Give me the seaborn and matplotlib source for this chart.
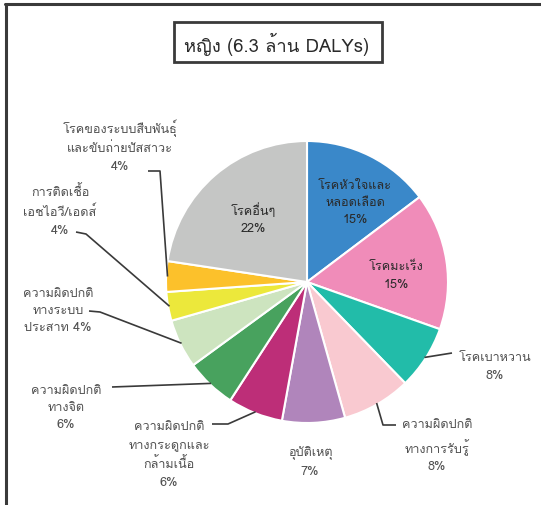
import matplotlib
matplotlib.use("Agg")
import numpy as np
import matplotlib.pyplot as plt
from matplotlib import font_manager
from matplotlib.ft2font import FT2Font
from matplotlib.lines import Line2D
from matplotlib.patches import Rectangle
import seaborn as sns

# Data (clockwise from 12 o'clock), share of DALYs in women
causes = ["โรคหัวใจและหลอดเลือด", "โรคมะเร็ง", "โรคเบาหวาน", "ความผิดปกติทางการรับรู้",
          "อุบัติเหตุ", "ความผิดปกติทางกระดูกและกล้ามเนื้อ", "ความผิดปกติทางจิต",
          "ความผิดปกติทางระบบประสาท", "การติดเชื้อเอชไอวี/เอดส์",
          "โรคของระบบสืบพันธุ์และขับถ่ายปัสสาวะ", "โรคอื่นๆ"]
shares = [14.7, 15.7, 7.3, 7.9, 7.2, 6.3, 5.8, 5.6, 3.3, 3.5, 22.6]
labels = ["โรคหัวใจและ\nหลอดเลือด\n15%", "โรคมะเร็ง\n15%", "โรคเบาหวาน\n8%",
          "ความผิดปกติ\nทางการรับรู้\n8%", "อุบัติเหตุ\n7%",
          "ความผิดปกติ\nทางกระดูกและ\nกล้ามเนื้อ\n6%", "ความผิดปกติ\nทางจิต\n6%",
          "ความผิดปกติ\nทางระบบ\nประสาท 4%", "การติดเชื้อ\nเอชไอวี/เอดส์\n4%",
          "โรคของระบบสืบพันธุ์\nและขับถ่ายปัสสาวะ\n4%", "โรคอื่นๆ\n22%"]
colors = ["#3a88c9", "#f08cb9", "#22bca9", "#f9c9d0", "#b085bb", "#bd2e78",
          "#48a25e", "#cde4bf", "#ece83b", "#fcc12b", "#c5c6c5"]
title = "หญิง (6.3 ล้าน DALYs)"


def find_thai_font():
    # first installed font that has Thai glyphs
    for f in font_manager.fontManager.ttflist:
        try:
            cmap = FT2Font(f.fname).get_charmap()
        except Exception:
            continue
        if 0x0E01 in cmap and 0x0E42 in cmap:
            return f.name
    return None


sns.set_theme(style="white")
thai = find_thai_font()
plt.rcParams['font.family'] = [thai, 'DejaVu Sans'] if thai else ['DejaVu Sans']

W, H = 541, 506


def px(x, y):
    # reference pixel position -> data coords (y up)
    return x, H - y


fig = plt.figure(figsize=(W / 100, H / 100), dpi=100)
ax = fig.add_axes([0, 0, 1, 1])
cx, cy = px(307, 283)
R = 141
wedges, _ = ax.pie(shares, colors=colors, startangle=90, counterclock=False,
                   center=(cx, cy), radius=R,
                   wedgeprops=dict(edgecolor="white", linewidth=1.5))
ax.set_xlim(0, W)
ax.set_ylim(0, H)
ax.set_aspect("equal")
ax.axis("off")

# label layout: (text centre, line points from text towards the wedge) ; None = no line
layout = [
    ((355, 203), None),
    ((396, 276), None),
    ((495, 367), [(452, 354)]),
    ((437, 446), [(396, 426), (383, 426)]),
    ((310, 462), None),
    ((169, 455), [(212, 425), (228, 425)]),
    ((66, 408), [(112, 388)]),
    ((58, 311), [(89, 312), (100, 313)]),
    ((60, 211), [(76, 233), (86, 235)]),
    ((120, 146), [(148, 172), (160, 172)]),
    ((253, 219), None),
]

inner = {0, 1, 10}
for i, (w, lab, (pos, pts)) in enumerate(zip(wedges, labels, layout)):
    ax.text(*px(*pos), lab, ha="center", va="center", fontsize=9.1,
            linespacing=1.6, color="#2a2a2a" if i in inner else "#505050")
    if pts:
        mid = np.deg2rad((w.theta1 + w.theta2) / 2)
        ex, ey = cx + R * 0.99 * np.cos(mid), cy + R * 0.99 * np.sin(mid)
        xs = [px(*p)[0] for p in pts] + [ex]
        ys = [px(*p)[1] for p in pts] + [ey]
        ax.plot(xs, ys, color="#3a3a3a", lw=1.2, solid_capstyle="butt")

# title box
ax.text(*px(277, 44), title, ha="center", va="center", fontsize=13.3, color="#2a2a2a")
ax.add_patch(Rectangle(px(174, 63), 208, 40, fill=False, edgecolor="#3a3a3a", lw=2))

# outer frame (top and left)
fig.add_artist(Line2D([5 / W, 1], [1 - 5 / H, 1 - 5 / H], color="#3a3a3a", lw=2.2))
fig.add_artist(Line2D([6 / W, 6 / W], [0, 1 - 5 / H], color="#3a3a3a", lw=2.2))

fig.savefig("out.png", dpi=100)
